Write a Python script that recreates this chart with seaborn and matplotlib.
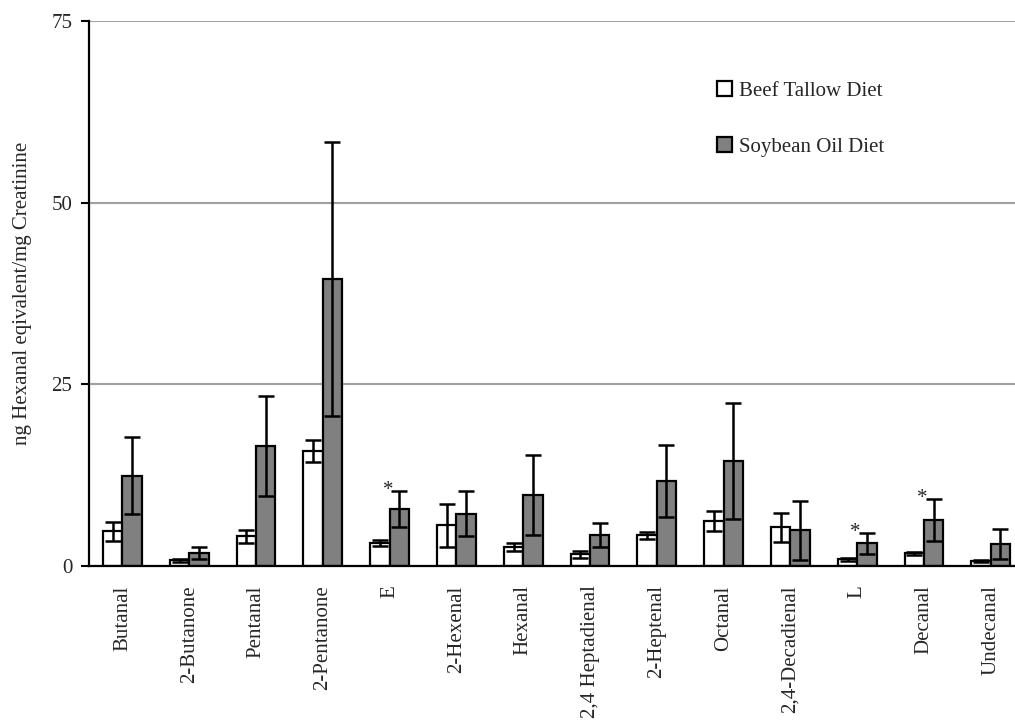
import numpy as np
import pandas as pd
import matplotlib
matplotlib.use("Agg")
import matplotlib.pyplot as plt
import seaborn as sns

compounds = ["Butanal", "2-Butanone", "Pentanal", "2-Pentanone", "E", "2-Hexenal",
             "Hexanal", "2,4 Heptadienal", "2-Heptenal", "Octanal", "2,4-Decadienal",
             "L", "Decanal", "Undecanal"]
beef_mean = [4.8, 0.8, 4.1, 15.8, 3.2, 5.6, 2.6, 1.6, 4.2, 6.2, 5.3, 0.9, 1.75, 0.65]
beef_err = [1.3, 0.2, 0.9, 1.5, 0.4, 2.95, 0.5, 0.5, 0.5, 1.4, 2.0, 0.15, 0.2, 0.15]
soy_mean = [12.4, 1.8, 16.5, 39.5, 7.8, 7.2, 9.8, 4.2, 11.7, 14.4, 4.9, 3.1, 6.3, 3.0]
soy_err = [5.3, 0.8, 6.9, 18.9, 2.5, 3.1, 5.5, 1.65, 5.0, 8.0, 4.05, 1.4, 2.9, 2.1]
diets = ["Beef Tallow Diet", "Soybean Oil Diet"]
significant = ["E", "L", "Decanal"]
y_ticks = [0, 25, 50, 75]
y_label = "ng Hexanal eqivalent/mg Creatinine"

sns.set_style("white")
plt.rcParams["font.family"] = ["Liberation Serif", "DejaVu Serif"]

df = pd.DataFrame({
    "compound": compounds * 2,
    "diet": [diets[0]] * len(compounds) + [diets[1]] * len(compounds),
    "value": beef_mean + soy_mean,
})
errs = {diets[0]: beef_err, diets[1]: soy_err}

fig = plt.figure(figsize=(10.15, 7.21), dpi=100)
ax = fig.add_axes([89 / 1015, 1 - 566 / 721, 14 * 66.8 / 1015, (566 - 21) / 721])

sns.barplot(data=df, x="compound", y="value", hue="diet", order=compounds,
            hue_order=diets, palette=["white", "#808080"], edgecolor="black",
            linewidth=1.6, width=0.58, errorbar=None, ax=ax, zorder=2)

gray_tops = {}
for cont, d in zip(ax.containers, diets):
    xs = [p.get_x() + p.get_width() / 2 for p in cont.patches]
    hs = [p.get_height() for p in cont.patches]
    ax.errorbar(xs, hs, yerr=errs[d], fmt="none", ecolor="black",
                elinewidth=1.8, capsize=6, capthick=1.8, zorder=3)
    if d == diets[1]:
        for c, x, h, e in zip(compounds, xs, hs, errs[d]):
            gray_tops[c] = (x, h + e)

for c in significant:
    x, top = gray_tops[c]
    ax.text(x - 0.17, top + 0.1, "*", ha="center", va="center", fontsize=15)

ax.set_xlim(-0.5, 13.5)
ax.set_ylim(0, 75)
ax.set_yticks(y_ticks)
ax.set_yticklabels([str(t) for t in y_ticks], fontsize=15)
ax.set_xticks(range(len(compounds)))
ax.set_xticklabels(compounds, rotation=90, fontsize=15, va="top")
ax.set_xticks(np.arange(-0.5, len(compounds), 1), minor=True)
ax.tick_params(axis="x", which="major", length=0, pad=14)
ax.tick_params(axis="x", which="minor", length=6, width=1.5, direction="out", color="black")
ax.tick_params(axis="y", length=6, width=1.5, direction="out", color="black", pad=6, left=True)
ax.set_xlabel("")
ax.set_ylabel(y_label, fontsize=15)
ax.yaxis.set_label_coords(-0.061, 0.5)

ax.grid(axis="y", color="#a0a0a0", linewidth=1.5)
ax.grid(axis="x", visible=False)
ax.set_axisbelow(True)
for s in ["top", "right"]:
    ax.spines[s].set_visible(False)
for s in ["left", "bottom"]:
    ax.spines[s].set_color("black")
    ax.spines[s].set_linewidth(1.6)

leg = ax.legend(loc="upper left", bbox_to_anchor=(698 / 1015, 1 - 62 / 721),
                bbox_transform=fig.transFigure, frameon=False, fontsize=15,
                handlelength=0.75, handleheight=0.75, handletextpad=0.33,
                labelspacing=1.75)
for h in leg.legend_handles:
    h.set_linewidth(1.6)

fig.savefig("out.png", dpi=100)
